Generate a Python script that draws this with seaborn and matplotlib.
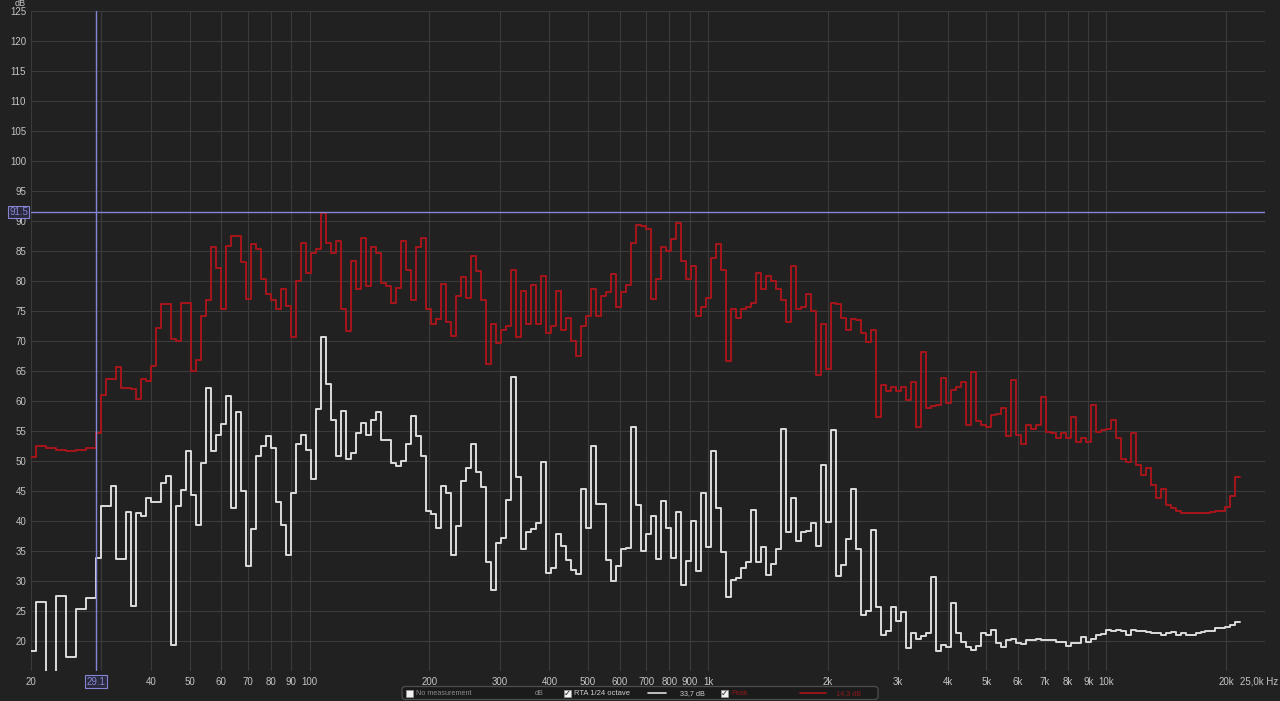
import numpy as np
import pandas as pd
import matplotlib
matplotlib.use("Agg")
import matplotlib.pyplot as plt
from matplotlib.patches import FancyBboxPatch, Rectangle
from matplotlib.transforms import blended_transform_factory
import seaborn as sns

# ---------------- data ----------------
band_start_hz = 20.0
bands_per_octave = 24

peak_db = [
    50.6, 52.5, 52.5, 52.2, 52.1, 51.9, 51.8, 51.7, 51.7, 51.8, 51.9, 52.1, 52.2,
    54.6, 61.0, 63.6, 63.6, 65.6, 62.2, 62.2, 62.0, 60.4, 63.6, 63.3, 65.8, 72.2, 76.1, 76.1,
    70.4, 70.0, 76.4, 76.4, 65.0, 66.9, 74.2, 76.9, 85.6, 82.2, 75.3, 85.8, 87.5,
    87.5, 83.1, 77.0, 86.1, 85.3, 80.3, 77.8, 76.9, 75.3, 78.6, 75.8, 70.6, 80.0, 86.4,
    81.4, 84.7, 85.3, 91.4, 86.4, 84.7, 86.7, 75.3, 71.7, 83.3, 78.6, 87.2, 79.2, 85.6,
    84.7, 79.7, 79.2, 76.4, 78.9, 86.7, 81.9, 76.9, 85.6, 87.2, 75.3, 72.8, 73.6, 79.5,
    73.1, 70.8, 77.5, 80.6, 77.2, 84.2, 81.7, 76.9, 66.1, 72.8, 69.7, 71.9, 72.5, 81.9,
    70.6, 78.3, 72.8, 79.4, 72.8, 80.8, 71.4, 72.5, 78.3, 71.9, 73.9, 70.0, 67.5, 72.5,
    74.2, 78.6, 74.2, 77.5, 78.1, 81.1, 75.6, 78.1, 79.4, 86.4, 89.4, 89.2, 88.6,
    77.0, 80.3, 85.6, 85.0, 87.0, 89.7, 83.3, 80.3, 82.5, 74.2, 75.6, 77.2, 83.9, 86.1,
    81.9, 66.7, 75.3, 73.9, 75.3, 75.6, 76.4, 81.4, 78.6, 80.8, 80.0, 78.6, 76.9, 73.1,
    82.5, 75.3, 75.6, 77.8, 75.0, 64.4, 72.8, 65.3, 76.4, 76.1, 73.9, 71.9, 73.7,
    73.5, 71.3, 69.9, 71.8, 57.4, 62.7, 61.6, 62.4, 61.6, 62.4, 60.2, 63.2, 55.7, 68.2,
    58.8, 59.1, 59.3, 63.8, 59.6, 61.8, 62.4, 63.2, 56.0, 64.9, 56.6, 56.0, 55.7, 57.7,
    57.9, 58.8, 54.1, 63.5, 54.4, 52.9, 56.0, 55.4, 56.0, 60.7, 54.9, 54.6,
    53.8, 54.6, 53.8, 57.4, 53.2, 53.8, 53.2, 59.3, 54.9, 55.2, 55.4, 56.8, 53.8, 50.4,
    49.9, 54.6, 49.3, 47.7, 48.8, 46.0, 43.8, 45.4, 42.7, 42.1, 41.6, 41.4, 41.3, 41.3,
    41.3, 41.3, 41.4, 41.5, 41.6, 41.7, 42.4, 44.1, 47.4,
]

rta_db = [
    18.3, 26.5, 26.5, 14.0, 14.0, 27.5, 27.5, 17.4, 17.4, 25.3, 25.3, 27.2, 27.2, 33.9,
    42.5, 42.5, 45.9, 33.7, 33.7, 41.5, 25.9, 41.3, 40.9, 43.9, 43.1, 43.1, 46.3, 47.5,
    19.4, 42.5, 45.2, 51.6, 44.4, 39.4, 49.7, 62.1, 51.7, 54.4, 56.1, 60.9, 42.1, 58.2,
    45.0, 32.5, 38.6, 50.8, 52.5, 54.1, 52.2, 43.1, 39.4, 34.4, 44.7, 52.8, 54.4, 51.9,
    47.0, 58.6, 70.7, 62.8, 56.8, 50.9, 58.3, 50.4, 51.4, 54.6, 56.4, 54.4, 56.8, 58.2,
    53.5, 53.5, 49.6, 49.2, 50.0, 52.8, 57.5, 54.2, 50.8, 41.7, 41.2, 38.9, 45.8,
    44.7, 34.4, 39.2, 46.7, 48.9, 52.9, 48.1, 45.6, 33.1, 28.5, 36.4, 37.2, 43.5, 64.0,
    47.3, 35.4, 38.2, 38.6, 39.7, 49.9, 31.3, 32.1, 37.9, 35.8, 33.5, 31.8, 31.1, 45.4,
    38.9, 52.5, 42.8, 42.8, 33.5, 30.0, 32.5, 35.4, 35.5, 55.7, 42.6, 35.0, 37.8,
    40.9, 33.7, 43.3, 38.9, 33.8, 41.5, 29.4, 33.3, 40.0, 31.7, 44.6, 35.6, 51.6, 42.2,
    34.8, 27.3, 30.1, 30.5, 32.2, 33.1, 41.9, 33.1, 35.7, 31.0, 32.8, 35.4, 55.4, 38.2,
    43.8, 36.7, 38.1, 38.4, 39.6, 35.9, 49.3, 39.8, 55.2, 30.8, 32.7, 37.0, 45.3,
    35.3, 24.3, 25.0, 38.5, 25.6, 21.0, 21.6, 25.6, 23.4, 24.9, 18.8, 21.3, 20.4, 20.9,
    21.3, 30.6, 18.3, 19.3, 19.0, 26.3, 21.3, 19.9, 19.0, 18.5, 19.1, 21.4, 21.0, 21.8,
    19.6, 19.0, 20.2, 20.3, 19.6, 19.5, 20.2, 20.1, 20.3, 20.2, 20.1, 20.1,
    19.9, 19.8, 19.1, 19.6, 19.6, 20.7, 19.9, 20.4, 21.0, 21.2, 21.8, 21.7, 21.8, 21.7,
    21.0, 21.8, 21.7, 21.7, 21.5, 21.4, 21.3, 21.0, 21.4, 21.5, 21.0, 21.3, 21.0, 21.0,
    21.4, 21.5, 21.7, 21.7, 22.1, 22.1, 22.4, 22.7, 23.1,
]

x_ticks = [20, 30, 40, 50, 60, 70, 80, 90, 100, 200, 300, 400, 500, 600, 700, 800, 900,
           1000, 2000, 3000, 4000, 5000, 6000, 7000, 8000, 9000, 10000, 20000, 25000]
x_tick_labels = ["20", "", "40", "50", "60", "70", "80", "90", "100", "200", "300", "400",
                 "500", "600", "700", "800", "900", "1k", "2k", "3k", "4k", "5k", "6k", "7k",
                 "8k", "9k", "10k", "20k", ""]
x_end_label = "25,0k Hz"
y_ticks = list(range(20, 130, 5))

cursor_hz = 29.1
cursor_db = 91.5
series_names = ["RTA 1/24 octave", "Peak"]
legend_values = ["33,7 dB", "14,3 dB"]

# ---------------- build long table (band edges, steps-post) ----------------
n = len(peak_db)
edges = band_start_hz * 2.0 ** (np.arange(n + 1) / bands_per_octave)
frames = []
for name, vals in [(series_names[0], rta_db), (series_names[1], peak_db)]:
    v = list(vals) + [vals[-1]]
    frames.append(pd.DataFrame({"freq": edges, "level": v, "series": name}))
df = pd.concat(frames, ignore_index=True)

# ---------------- style ----------------
BG = "#212121"
GRID = "#3b3b3b"
TXT = "#c4c4c4"
CUR = "#8585d6"
RED = "#a8151b"
WHITE = "#dcdcdc"

sns.set_theme(style="dark")
plt.rcParams["font.family"] = ["Liberation Sans", "DejaVu Sans"]

W, H = 1280, 701
fig = plt.figure(figsize=(W / 100, H / 100), dpi=100, facecolor=BG)
ax = fig.add_axes([31 / W, 1 - 671 / H, (1265 - 31) / W, (671 - 11) / H])
ax.set_facecolor(BG)

sns.lineplot(data=df, x="freq", y="level", hue="series", hue_order=series_names,
             palette={series_names[0]: WHITE, series_names[1]: RED},
             drawstyle="steps-post", estimator=None, sort=True, legend=False,
             linewidth=1.4, ax=ax)

ax.set_xscale("log")
ax.set_xlim(20, 25000)
ax.set_ylim(15, 125)
ax.set_xticks(x_ticks)
ax.set_xticklabels(x_tick_labels)
ax.xaxis.set_minor_locator(matplotlib.ticker.NullLocator())
ax.set_yticks(y_ticks)
ax.set_yticklabels([str(t) for t in y_ticks])
ax.tick_params(axis="both", length=0, colors=TXT, labelsize=7)
ax.tick_params(axis="x", pad=4.5)
ax.tick_params(axis="y", pad=3.5)
ax.set_xlabel("")
ax.set_ylabel("")
ax.grid(True, which="major", color=GRID, linewidth=0.8)
for s in ax.spines.values():
    s.set_visible(False)

# cursor lines
ax.axvline(cursor_hz, color=CUR, linewidth=1.0, zorder=5)
ax.axhline(cursor_db, color=CUR, linewidth=1.0, zorder=5)
ax.annotate(f"{cursor_db:.1f}", xy=(-0.0025, cursor_db), xycoords=("axes fraction", "data"),
            ha="right", va="center", fontsize=7, color=CUR, annotation_clip=False,
            bbox=dict(boxstyle="square,pad=0.15", fc="#2a2a3c", ec=CUR, lw=0.8))
trans = blended_transform_factory(ax.transData, ax.transAxes)
ax.text(cursor_hz, -0.0085, f"{cursor_hz:.1f}", transform=trans, ha="center", va="top",
        fontsize=7, color=CUR, clip_on=False,
        bbox=dict(boxstyle="square,pad=0.15", fc="#2a2a3c", ec=CUR, lw=0.8))

fig.text(20 / W, 1 - 3.5 / H, "dB", ha="center", va="center", fontsize=6.5, color=TXT)

# ---------------- bottom legend bar (pixel overlay) ----------------
ov = fig.add_axes([0, 0, 1, 1], facecolor="none")
ov.set_xlim(0, W)
ov.set_ylim(H, 0)
ov.axis("off")
ov.text(1278, 681, x_end_label, ha="right", va="center", fontsize=7, color=TXT)
ov.add_patch(FancyBboxPatch((402, 686.5), 476, 13, boxstyle="round,pad=0,rounding_size=3",
                            fc="#1b1b1b", ec="#4d4d4d", lw=0.9))
ly = 693.2
fs = 5.2


def checkbox(x, checked):
    ov.add_patch(Rectangle((x, ly - 3.7), 7.4, 7.4, fc="#f2f2f2", ec="#9a9a9a", lw=0.5))
    if checked:
        ov.text(x + 3.7, ly + 0.2, "\u2713", ha="center", va="center", fontsize=6,
                color="#202020", family="DejaVu Sans", fontweight="bold")


checkbox(406, False)
ov.text(416, ly, "No measurement", ha="left", va="center", fontsize=fs, color="#8a8a8a")
ov.text(535, ly, "dB", ha="left", va="center", fontsize=fs, color="#8a8a8a")
checkbox(563.5, True)
ov.text(574, ly, series_names[0], ha="left", va="center", fontsize=fs + 0.3, color="#cfcfcf")
ov.plot([648, 666], [ly, ly], color=WHITE, lw=1.2)
ov.text(680, ly, legend_values[0], ha="left", va="center", fontsize=fs, color="#cfcfcf")
checkbox(721, True)
ov.text(731, ly, series_names[1], ha="left", va="center", fontsize=fs, color="#8c1a1e")
ov.plot([800, 826], [ly - 0.5, ly - 0.5], color=RED, lw=1.2)
ov.text(836, ly, legend_values[1], ha="left", va="center", fontsize=fs, color="#8c1a1e")

fig.savefig("out.png", dpi=100, facecolor=BG)
